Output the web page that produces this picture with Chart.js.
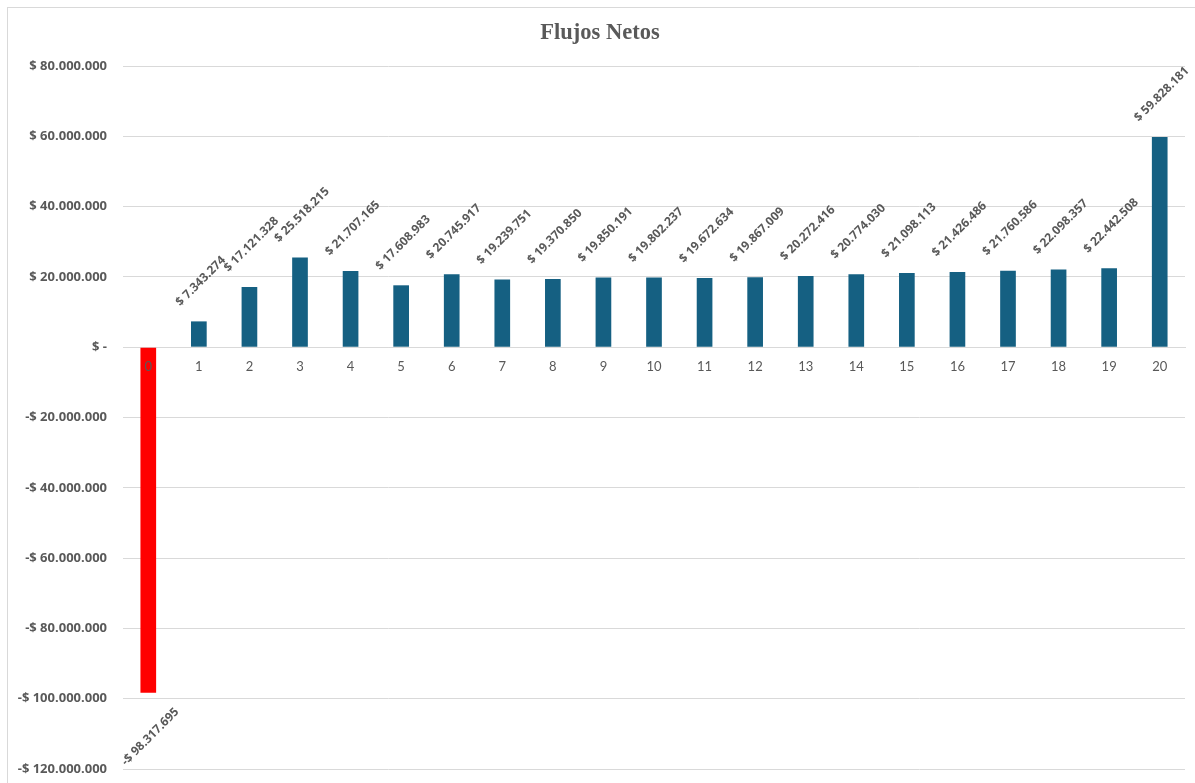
<!DOCTYPE html>
<html lang="es">
<head>
<meta charset="utf-8">
<title>Flujos Netos</title>
<script src="https://cdn.jsdelivr.net/npm/chart.js@4.4.1/dist/chart.umd.min.js"></script>
<style>
  html, body { margin: 0; padding: 0; background: #ffffff; }
  #wrap { width: 1195px; height: 783px; position: relative; }
</style>
</head>
<body>
<div id="wrap"><canvas id="chart" width="1195" height="783"></canvas></div>
<script>
// Periodos del proyecto (años)
const periods = ['0','1','2','3','4','5','6','7','8','9','10','11','12','13','14','15','16','17','18','19','20'];

// Flujo neto de cada periodo, en pesos
const netFlows = [
  -98317695, 7343274, 17121328, 25518215, 21707165, 17608983, 20745917,
  19239751, 19370850, 19850191, 19802237, 19672634, 19867009, 20272416,
  20774030, 21098113, 21426486, 21760586, 22098357, 22442508, 59828181
];

// Marcas del eje vertical
const yTickValues = [-120000000, -100000000, -80000000, -60000000, -40000000, -20000000, 0,
                     20000000, 40000000, 60000000, 80000000];

const TEXT_GRAY = '#595959';
const GRID_GRAY = '#d9d9d9';
const POS_COLOR = '#156082';
const NEG_COLOR = '#ff0000';
const LABEL_FONT = '"Open Sans", Lato, sans-serif';

// Formato contable: "$ 1.234.567", "-$ 1.234.567", "$ -"
function groupThousands(n) {
  return Math.round(Math.abs(n)).toString().replace(/\B(?=(\d{3})+(?!\d))/g, '.');
}
function money(v) {
  if (v === 0) return '$ -';
  return (v < 0 ? '-$ ' : '$ ') + groupThousands(v);
}

// Marco exterior del gráfico
const framePlugin = {
  id: 'frame',
  beforeDraw(chart) {
    const ctx = chart.ctx;
    ctx.save();
    ctx.fillStyle = '#ffffff';
    ctx.fillRect(0, 0, chart.width, chart.height);
    ctx.strokeStyle = GRID_GRAY;
    ctx.lineWidth = 1;
    ctx.strokeRect(7.5, 7.5, chart.width + 10, chart.height + 10);
    ctx.restore();
  }
};

// Etiquetas de valor giradas 45° en el extremo de cada barra
const valueLabelPlugin = {
  id: 'valueLabels',
  afterDatasetsDraw(chart) {
    const ctx = chart.ctx;
    const meta = chart.getDatasetMeta(0);
    const values = chart.data.datasets[0].data;
    ctx.save();
    ctx.font = 'bold 12px ' + LABEL_FONT;
    ctx.fillStyle = TEXT_GRAY;
    ctx.textAlign = 'center';
    ctx.textBaseline = 'middle';
    meta.data.forEach((bar, i) => {
      const v = values[i];
      const text = money(v);
      const w = ctx.measureText(text).width;
      const h = 12;
      const off = (w + h) * 0.3536 + 13;
      const cx = bar.x + 2;
      const cy = v >= 0 ? bar.y - off : bar.y + off;
      ctx.save();
      ctx.translate(cx, cy);
      ctx.rotate(-Math.PI / 4);
      ctx.fillText(text, 0, 0);
      ctx.restore();
    });
    ctx.restore();
  }
};

const ctx = document.getElementById('chart').getContext('2d');
new Chart(ctx, {
  type: 'bar',
  data: {
    labels: periods,
    datasets: [{
      label: 'Flujo neto',
      data: netFlows,
      backgroundColor: netFlows.map(v => v < 0 ? NEG_COLOR : POS_COLOR),
      borderWidth: 0,
      categoryPercentage: 1,
      barPercentage: 0.31
    }]
  },
  options: {
    responsive: false,
    animation: false,
    events: [],
    layout: { padding: { top: 20, left: 15, right: 10, bottom: 14 } },
    plugins: {
      legend: { display: false },
      tooltip: { enabled: false },
      title: {
        display: true,
        text: 'Flujos Netos',
        color: TEXT_GRAY,
        font: { family: '"Liberation Serif", "DejaVu Serif", serif', size: 22.5, weight: 'bold', lineHeight: 1.2 },
        padding: { top: 0, bottom: 19 }
      }
    },
    scales: {
      x: {
        position: { y: 0 },
        afterFit(scale) { scale.height = 0; },
        grid: { display: false, drawTicks: false },
        border: { display: true, color: GRID_GRAY, width: 1 },
        ticks: {
          z: 1,
          color: TEXT_GRAY,
          padding: 12,
          font: { family: 'Lato, "Open Sans", sans-serif', size: 13 }
        }
      },
      y: {
        min: -120000000,
        max: 80000000,
        afterBuildTicks(scale) {
          scale.ticks = yTickValues.map(v => ({ value: v }));
        },
        afterFit(scale) {
          scale.width = 108;
          scale.paddingTop = 8;
          scale.paddingBottom = 8;
        },
        grid: { color: GRID_GRAY, lineWidth: 1, drawTicks: false },
        border: { display: false },
        ticks: {
          color: TEXT_GRAY,
          padding: 16,
          font: { family: LABEL_FONT, size: 13, weight: 'bold' },
          callback: v => money(v)
        }
      }
    }
  },
  plugins: [framePlugin, valueLabelPlugin]
});
</script>
</body>
</html>
